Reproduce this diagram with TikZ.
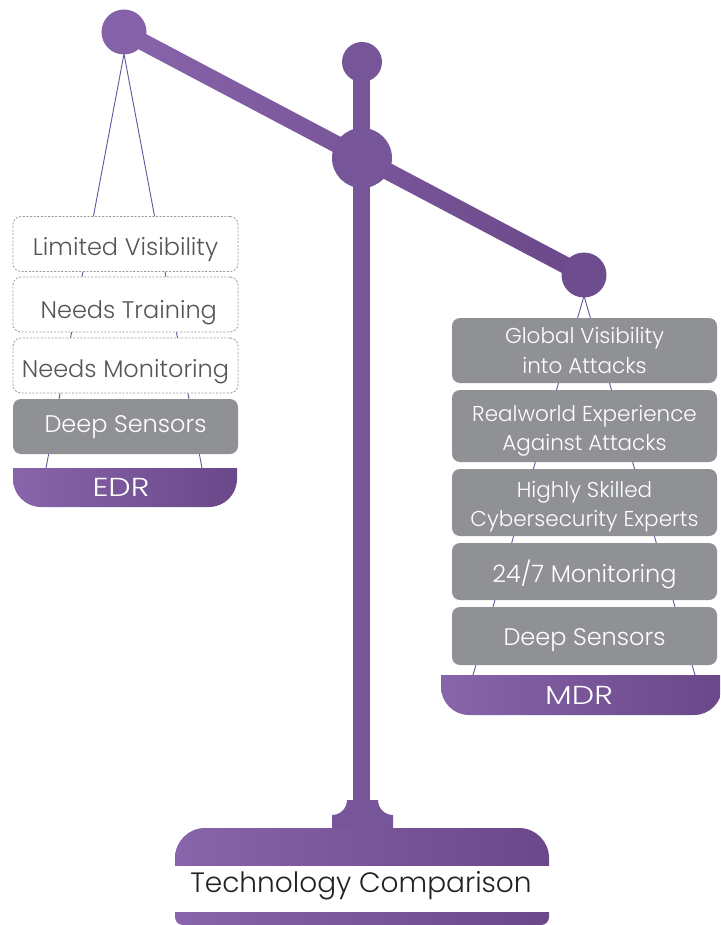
\documentclass[tikz,border=0pt]{standalone}
\usepackage{fontspec}
\setmainfont{Poppins}[UprightFont={* Light}]
\usetikzlibrary{calc}
\definecolor{pL}{HTML}{8864AA}
\definecolor{pR}{HTML}{6A4889}
\definecolor{pM}{HTML}{775599}
\definecolor{pC1}{HTML}{8562A7}
\definecolor{pC3}{HTML}{6E4D8F}
\definecolor{boxgrey}{HTML}{8F9194}
\definecolor{dashgrey}{HTML}{9A9A9A}
\definecolor{txtgrey}{HTML}{555555}
\definecolor{stringc}{HTML}{62559A}
\definecolor{titlec}{HTML}{222222}
\begin{document}
\begin{tikzpicture}[x=1pt,y=-1pt,
  stringl/.style={draw=stringc,line width=0.9pt},
  dbox/.style={draw=dashgrey,line width=0.8pt,dash pattern=on 2pt off 1.6pt,fill=white,rounded corners=8pt,
    minimum width=225pt,minimum height=55pt,inner sep=0pt,align=center,text=txtgrey,font=\fontsize{24}{28}\selectfont,text depth=0pt},
  gbox/.style={fill=boxgrey,rounded corners=8pt,inner sep=0pt,align=center,text=white,font=\fontsize{24}{28}\selectfont},
  mbox/.style={gbox,minimum width=265pt},
  mtwo/.style={font=\fontsize{21.5}{29}\selectfont},
  panlabel/.style={text=white,inner sep=0pt,font=\fontsize{26}{30}\selectfont\addfontfeature{FakeStretch=1.22}}
]
\useasboundingbox (0,0) rectangle (720,925);

% key coordinates
\coordinate (lap) at (124,54);
\coordinate (rap) at (584,296);
\coordinate (lend1) at (46,468);
\coordinate (lend2) at (202,468);
\coordinate (rend1) at (473,675);
\coordinate (rend2) at (695,675);

% strings
\draw[stringl] (lend1) -- (lap) -- (lend2);
\draw[stringl] (rend1) -- (rap) -- (rend2);

% post
\fill[pM] (353,62) rectangle (370,805);

% beam
\coordinate (bl) at (124,32);
\coordinate (br) at (584,275);
\shade[left color=pL,right color=pR]
  ($(bl)!8.5pt!90:(br)$) -- ($(br)!8.5pt!-90:(bl)$) -- ($(br)!8.5pt!90:(bl)$) -- ($(bl)!8.5pt!-90:(br)$) -- cycle;

% circles
\fill[pC1] (bl) circle[radius=22.5pt];
\fill[pM] (362,62) circle[radius=20pt];
\fill[pM] (362,158) circle[radius=30pt];
\fill[pC3] (br) circle[radius=22.5pt];

% pedestal
\fill[pM] (332,830) -- (332,815) .. controls (340.3,815) and (347,808.3) .. (347,800)
  -- (378,800) .. controls (378,808.3) and (384.7,815) .. (393,815) -- (393,830) -- cycle;

% dome
\begin{scope}
  \clip (0,828) rectangle (720,865);
  \shade[left color=pL,right color=pR,rounded corners=30pt] (175,828) rectangle (549,905);
\end{scope}
% bottom bar
\begin{scope}
  \clip (0,912) rectangle (720,925);
  \shade[left color=pL,right color=pR,rounded corners=8pt] (175,895) rectangle (549,925);
\end{scope}
\node[text=titlec,inner sep=0pt,anchor=base,font=\fontsize{28}{32}\selectfont] (title) at (361,892) {Technology Comparison};

% EDR pan
\begin{scope}
  \clip (0,468) rectangle (720,507);
  \shade[left color=pL,right color=pR,rounded corners=28pt] (13,430) rectangle (237,507);
\end{scope}
\node[panlabel] (edr) at (121,487) {EDR};

% MDR pan
\begin{scope}
  \clip (0,675) rectangle (720,715);
  \shade[left color=pL,right color=pR,rounded corners=28pt] (441,640) rectangle (722,715);
\end{scope}
\node[panlabel] (mdr) at (579,695) {MDR};

% EDR boxes
\node[dbox,text height=22pt] (lim) at (125.5,244) {Limited Visibility};
\node[dbox,text height=27pt] (trn) at (125.5,304.5) {\ Needs Training};
\node[dbox,text height=23pt] (mon) at (125.5,365.5) {Needs Monitoring};
\node[gbox,minimum width=225pt,minimum height=55pt,text height=11pt,text depth=0pt] (edeep) at (125.5,426.5) {Deep Sensors};

% MDR boxes
\node[mbox,mtwo,minimum height=65pt] (glob) at (584.5,350.5) {Global Visibility\\into Attacks};
\node[mbox,mtwo,minimum height=72pt,text depth=0pt] (real) at (584.5,426) {\raisebox{-3pt}{Realworld Experience}\\\raisebox{-3pt}{Against Attacks}};
\node[mbox,mtwo,minimum height=67pt,text depth=0pt] (skill) at (584.5,502.5) {\raisebox{-3.5pt}{Highly Skilled}\\\raisebox{-3.5pt}{Cybersecurity Experts}};
\node[mbox,minimum height=57pt,text height=21pt,text depth=0pt] (mon247) at (584.5,571.5) {24/7 Monitoring};
\node[mbox,minimum height=58pt,text height=18pt,text depth=0pt] (mdeep) at (584.5,636) {Deep Sensors};
\end{tikzpicture}
\end{document}
